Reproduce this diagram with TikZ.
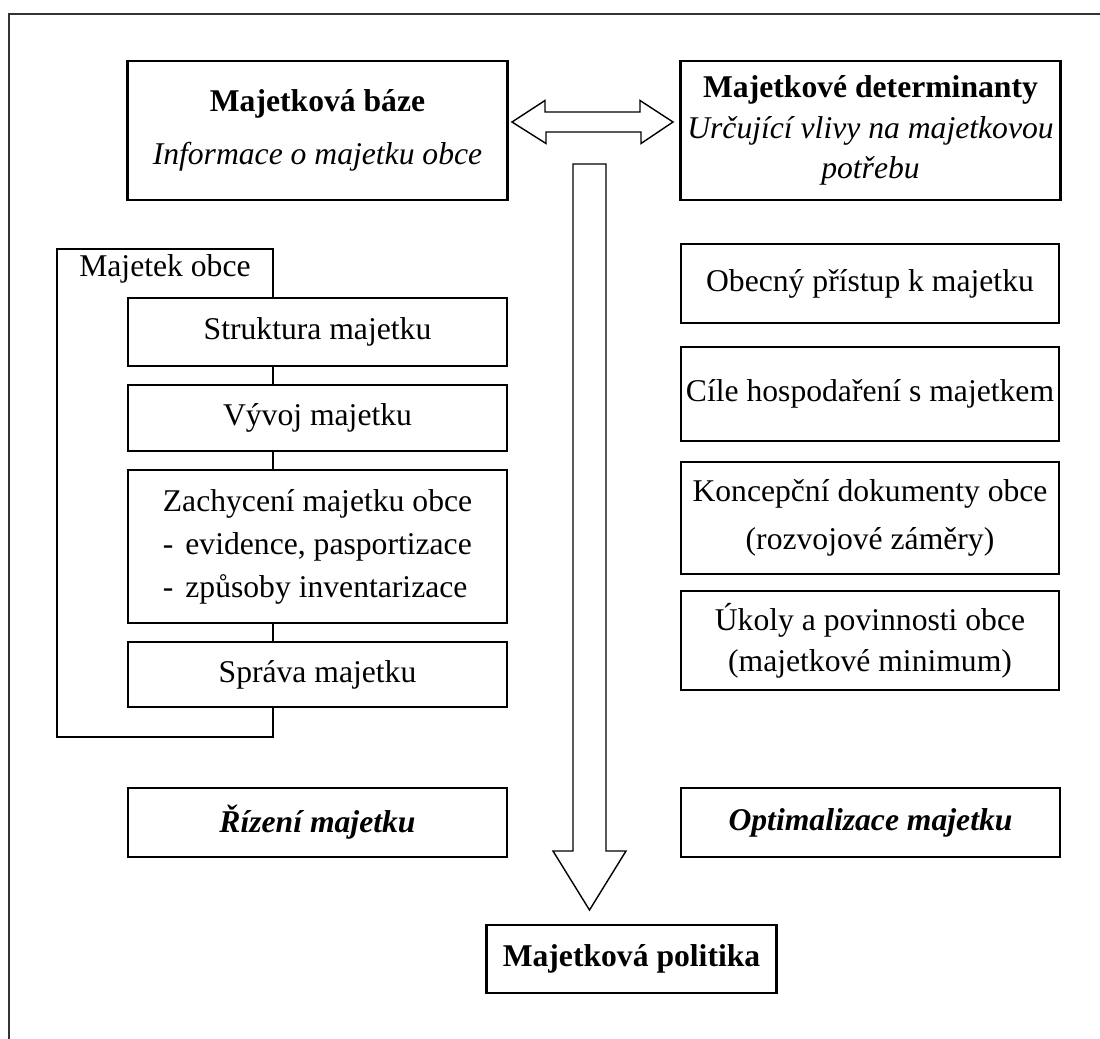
\documentclass[tikz,border=0pt]{standalone}
\usepackage{fontspec}
\setmainfont{Liberation Serif}
\usetikzlibrary{calc}
\newcommand\boxfont{\fontsize{22.5}{29}\selectfont}
\newcommand\dashitem[1]{\makebox[219.8pt][l]{-\hspace{8.5pt}#1}}
\begin{document}
\begin{tikzpicture}[x=0.025cm,y=-0.025cm,
  basebox/.style={draw, fill=white, inner sep=0pt, align=center, font=\boxfont},
  thinbox/.style={basebox, line width=1pt},
  thickbox/.style={basebox, line width=2.1pt},
  blockarrow/.style={draw, line width=1pt, fill=white, line join=miter}]
\useasboundingbox (0,0) rectangle (1100,1039);

% page frame (open at the right and bottom)
\draw[line width=1pt, black!80] (9,1039) -- (9,14) -- (1100,14);

% top row
\node[thickbox, minimum width=9.475cm, minimum height=3.475cm] (baze) at (317.5,130.5)
  {\textbf{Majetková báze}\\[9pt]\textit{Informace o majetku obce}};
\node[thickbox, minimum width=9.475cm, minimum height=3.475cm] (det) at (870.5,130.5)
  {\textbf{Majetkové determinanty}\\\textit{Určující vlivy na majetkovou}\\\textit{potřebu}};

% double arrow between the two top boxes
\coordinate (dl) at (512,122);
\coordinate (dr) at (673,122);
\draw[blockarrow] (dl) -- ++(33,-21.5) -- ++(0,11.5) -- ++(95,0) -- ++(0,-11.5)
  -- (dr) -- ++(-32,21.5) -- ++(0,-11.5) -- ++(-95,0) -- ++(0,11.5) -- cycle;

% left column: property of the municipality
\node[draw, line width=1pt, minimum width=5.4cm, minimum height=12.2cm, inner sep=0pt] (obec) at (165,493) {};
\node[font=\boxfont, anchor=west, inner sep=0pt] (obeclbl) at (79,269) {Majetek obce};
\node[thinbox, minimum width=9.475cm, minimum height=1.7cm] (strukt) at (317.5,332) {Struktura majetku};
\node[thinbox, minimum width=9.475cm, minimum height=1.65cm] (vyvoj) at (317.5,418) {Vývoj majetku};
\node[thinbox, minimum width=9.475cm, minimum height=3.825cm] (zach) at (317.5,546.5)
  {Zachycení majetku obce\\[1.6pt]\dashitem{evidence, pasportizace}\\[1.6pt]\dashitem{způsoby inventarizace}};
\node[thinbox, minimum width=9.475cm, minimum height=1.625cm] (sprava) at (317.5,674.5) {Správa majetku};

% right column: determinants
\node[thinbox, minimum width=9.45cm, minimum height=1.975cm] (pristup) at (870,283.5) {Obecný přístup k majetku};
\node[thinbox, minimum width=9.45cm, minimum height=2.35cm] (cile) at (870,394) {Cíle hospodaření s majetkem};
\node[thinbox, minimum width=9.45cm, minimum height=2.8cm] (konc) at (870,518)
  {Koncepční dokumenty obce\\[5pt](rozvojové záměry)};
\node[thinbox, minimum width=9.45cm, minimum height=2.475cm] (ukoly) at (870,640.5)
  {Úkoly a povinnosti obce\\(majetkové minimum)};

% bottom row
\node[thickbox, line width=1.6pt, minimum width=9.475cm, minimum height=1.725cm] (rizeni) at (317.5,822.5)
  {\textbf{\textit{Řízení majetku}}};
\node[thickbox, line width=1.6pt, minimum width=9.475cm, minimum height=1.725cm] (optim) at (870.5,822.5)
  {\textbf{\textit{Optimalizace majetku}}};
\node[thickbox, minimum width=7.225cm, minimum height=1.7cm] (polit) at (631.5,959)
  {\textbf{Majetková politika}};

% downward arrow into the policy box
\coordinate (vtop) at (589.5,164);
\coordinate (vtip) at (589.5,910);
\draw[blockarrow] ($(vtop)+(-16.5,0)$) -- ++(33,0) -- ++(0,687) -- ++(20,0) -- (vtip)
  -- ++(-36.5,-59) -- ++(20,0) -- cycle;
\end{tikzpicture}
\end{document}
